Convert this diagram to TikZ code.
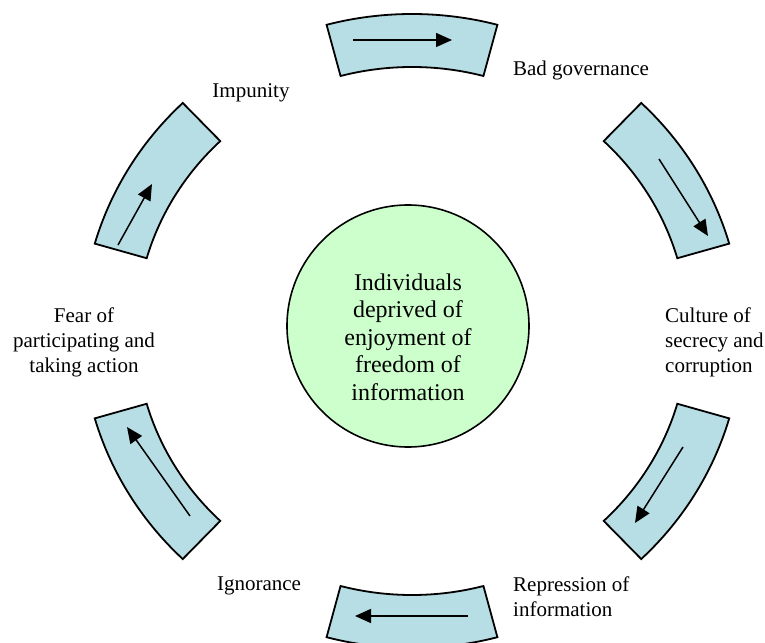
\documentclass[tikz,border=0pt]{standalone}
\usepackage{fontspec}
\setmainfont{Liberation Serif}
\usepackage{tikz}
\usetikzlibrary{arrows.meta}
\usetikzlibrary{positioning}
\definecolor{segfill}{RGB}{183,222,228}
\definecolor{hubfill}{RGB}{204,255,204}

\begin{document}
\begin{tikzpicture}[x=1pt,y=1pt,>={Triangle[length=16pt,width=14pt]},
		seg/.style={draw=black,line width=1.8pt,fill=segfill},
		flow/.style={->,draw=black,line width=1.5pt},
		hub/.style={circle,draw=black,line width=1.6pt,fill=hubfill,minimum size=242pt,inner sep=0pt},
		hubtext/.style={align=center,inner sep=0pt,font=\fontsize{24}{27.5}\selectfont},
		lbl/.style={inner sep=0pt,font=\fontsize{21}{25}\selectfont}]
		\useasboundingbox (-412,-311) rectangle (353,331);
		
		% the six bent blocks of the ring
		\foreach \a/\b in {75/105, 16/46, -46/-16, -105/-75, 196/226, 134/164}
		\draw[seg] (\a:276pt and 264pt) arc[start angle=\a, end angle=\b, x radius=276pt, y radius=264pt]
		-- (\b:330pt and 317pt) arc[start angle=\b, end angle=\a, x radius=330pt, y radius=317pt] -- cycle;
		
		\node[hub]      (hub)     at (-4,5) {};
		\node[hubtext]  (hubtext) at ([yshift=-11pt]hub.center) {Individuals\\deprived of\\enjoyment of\\freedom of\\information};
		
		\node[lbl]  (impunity)   at (-161,238)  {Impunity};
		\node[lbl]  (governance) at (169,261)   {Bad governance};
		\node[lbl,anchor=west,align=left]   (secrecy)    at (253,-11)   {Culture of\\secrecy and\\corruption};
		\node[lbl,anchor=west,align=left]   (repression) at (101,-266)  {Repression of\\information};
		\node[lbl]  (ignorance)  at (-153,-255) {Ignorance};
		\node[lbl,align=center]  (fear) at (-328,-11)  {Fear of\\participating and\\taking action};
		
		% arrows inside the blocks
		\foreach \n/\sx/\sy/\tx/\ty in {top/-59/291/40/291, ru/247/172/296/95, rl/271/-116/223/-192,
			bot/56/-285/-57/-285, ll/-222/-185/-285/-96, lu/-294/86/-260/147}
		{
			\coordinate (s\n) at (\sx,\sy);
			\coordinate (t\n) at (\tx,\ty);
			\draw[flow] (s\n) -- (t\n);
		}
\end{tikzpicture}
\end{document}
